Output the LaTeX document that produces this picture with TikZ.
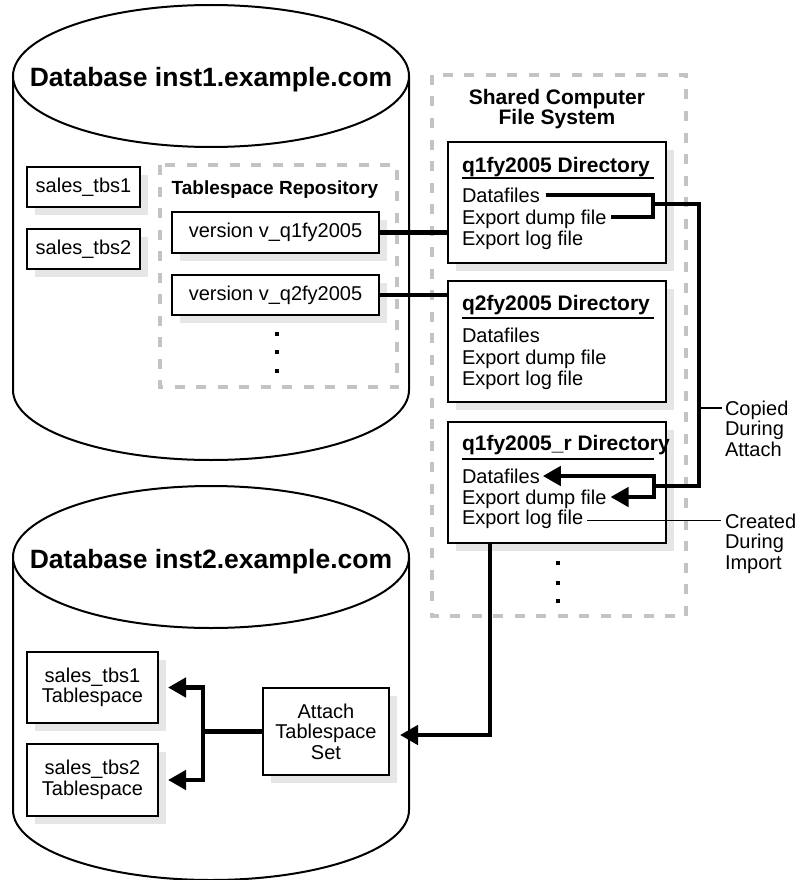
\documentclass[tikz,border=0pt]{standalone}
\usepackage{fontspec}
\setmainfont{Liberation Sans}
\usetikzlibrary{arrows.meta,shadows,calc}
\definecolor{shadowgray}{HTML}{E6E6E6}
\definecolor{dashgray}{HTML}{C3C3C3}
\begin{document}
\begin{tikzpicture}[x=1pt,y=-1pt,
  every node/.style={inner sep=0pt, outer sep=0pt},
  rfont/.style={font=\fontsize{20}{20.5}\selectfont},
  box/.style={draw, line width=2pt, fill=white, rfont, align=center,
    drop shadow={draw=none, shadow xshift=8pt, shadow yshift=-8pt, fill=shadowgray, opacity=1}},
  txt/.style={rfont, anchor=west, text height=14.4pt, text depth=0pt},
  dirtitle/.style={font=\fontsize{21}{21}\bfseries\selectfont, anchor=west, text height=15pt, text depth=0pt},
  dbtitle/.style={font=\fontsize{26.5}{26.5}\bfseries\selectfont},
  dashbox/.style={draw=dashgray, line width=4pt, dash pattern=on 10pt off 11.5pt},
  conn/.style={line width=4.5pt},
  arr/.style={-{Triangle[length=18pt,width=19pt]}},
  lbl/.style={line width=1.3pt},
  dotmark/.style={fill=black, minimum size=4pt},
  cyl/.style={draw, line width=2pt, fill=white},
]
\useasboundingbox (0,0) rectangle (799,880);

% ---------- Database inst1 cylinder ----------
\draw[cyl] (13,76) -- (13,390) arc[start angle=180, end angle=360, x radius=198pt, y radius=70pt] -- (409,76);
\draw[cyl] (211,76) ellipse [x radius=198pt, y radius=71pt];
\node[dbtitle] (db1) at (211,80) {Database inst1.example.com};

\node[box, minimum width=113pt, minimum height=40pt] (s1) at (83.5,187) {sales\_tbs1};
\node[box, minimum width=113pt, minimum height=40pt] (s2) at (83.5,249) {sales\_tbs2};

\draw[dashbox] (160,165) rectangle (397,387);
\node[font=\fontsize{19}{19}\bfseries\selectfont] (repo) at (275,190) {Tablespace Repository};
\node[box, minimum width=207pt, minimum height=41pt] (v1) at (275.5,232.5) {version v\_q1fy2005};
\node[box, minimum width=207pt, minimum height=40pt] (v2) at (275.5,295) {version v\_q2fy2005};
\node[dotmark] (rd1) at (277,334) {};
\node[dotmark] (rd2) at (277,352) {};
\node[dotmark] (rd3) at (277,371) {};

% ---------- Database inst2 cylinder ----------
\draw[cyl] (13,557) -- (13,810) arc[start angle=180, end angle=360, x radius=198pt, y radius=70pt] -- (409,557);
\draw[cyl] (211,557) ellipse [x radius=198pt, y radius=71pt];
\node[dbtitle] (db2) at (211,562) {Database inst2.example.com};

\node[box, minimum width=131pt, minimum height=71pt] (t1) at (92.5,687.5) {sales\_tbs1\\Tablespace};
\node[box, minimum width=131pt, minimum height=72pt] (t2) at (92.5,780) {sales\_tbs2\\Tablespace};
\node[box, minimum width=126pt, minimum height=87pt] (attach) at (326,731.5) {Attach\\Tablespace\\Set};

% ---------- Shared file system ----------
\draw[dashbox] (432,75) rectangle (686,616);
\node[font=\fontsize{21}{20}\bfseries\selectfont, align=center] (shared) at (557,109) {Shared Computer\\File System};

\node[box, minimum width=218pt, minimum height=121pt] (q1box) at (557,202.5) {};
\node[dirtitle] (q1t) at (462,165) {q1fy2005 Directory};
\draw[line width=2pt] (462,178) -- (654,178);
\node[txt] (q1d) at (462,195) {Datafiles};
\node[txt] (q1e) at (462,217) {Export dump file};
\node[txt] (q1l) at (462,238) {Export log file};

\node[box, minimum width=218pt, minimum height=121pt] (q2box) at (557,341.5) {};
\node[dirtitle] (q2t) at (462,303) {q2fy2005 Directory};
\draw[line width=2pt] (462,318) -- (654,318);
\node[txt] (q2d) at (462,335) {Datafiles};
\node[txt] (q2e) at (462,357) {Export dump file};
\node[txt] (q2l) at (462,378) {Export log file};

\node[box, minimum width=218pt, minimum height=121pt] (rbox) at (557,482.5) {};
\node[dirtitle] (rt) at (462,443) {q1fy2005\_r Directory};
\draw[line width=2pt] (462,459) -- (654,459);
\node[txt] (rd) at (462,476) {Datafiles};
\node[txt] (re) at (462,497) {Export dump file};
\node[txt] (rl) at (462,517) {Export log file};

\node[dotmark] (sd1) at (558,563) {};
\node[dotmark] (sd2) at (558,583) {};
\node[dotmark] (sd3) at (558,601) {};

% ---------- labels ----------
\node[rfont, align=left, anchor=north west] (copied) at (725,400.6) {Copied\\During\\Attach};
\node[rfont, align=left, anchor=north west] (created) at (725,513.6) {Created\\During\\Import};

% ---------- connectors ----------
\draw[conn] (v1.east) -- (v1.east -| q1box.west);
\draw[conn] (v2.east) -- (v2.east -| q2box.west);

\coordinate (bkt) at (653,204);
\coordinate (cpA) at (699,204);
\coordinate (cpB) at (699,486);
\coordinate (bkt2) at (654,486);
\draw[conn] ($(q1d.east)+(6,0)$) -| (bkt) |- ($(q1e.east)+(4,0)$);
\draw[conn] (bkt) -- (cpA) -- (cpB) -- (bkt2);
\draw[conn, arr] (bkt2) |- ($(rd.east)+(3,0)$);
\draw[conn, arr] (bkt2) |- ($(re.east)+(4,0)$);

\draw[lbl] (701,408) -- (722,408);
\draw[lbl] ($(rl.east)+(4,3.5)$) -- ($(rl.east -| created.west)+(-4,3.5)$);

\coordinate (dn) at (490,735);
\draw[conn, arr] (dn |- rbox.south) -- (dn) -- ($(attach.east |- dn)+(11,0)$);

\coordinate (jn) at (203,731.5);
\draw[conn] (attach.west) -- (jn);
\draw[conn, arr] (jn) |- ($(t1.east)+(10,0)$);
\draw[conn, arr] (jn) |- ($(t2.east)+(10,0)$);
\end{tikzpicture}
\end{document}
